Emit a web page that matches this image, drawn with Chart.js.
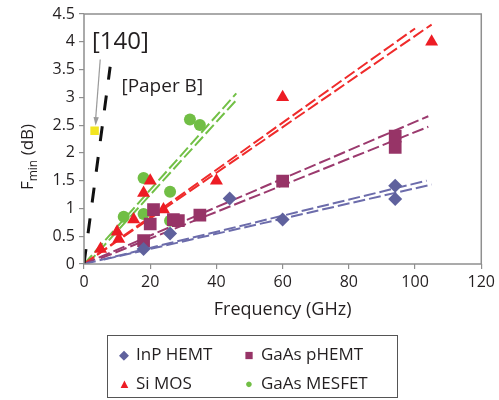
<!DOCTYPE html>
<html>
<head>
<meta charset="utf-8">
<script src="https://cdn.jsdelivr.net/npm/chart.js@4.4.0/dist/chart.umd.min.js"></script>
<style>
  html, body { margin: 0; padding: 0; background: #fff; }
  #wrap { position: relative; width: 499px; height: 400px; font-family: "Open Sans", sans-serif; color: #231f20; }
  #legend { position: absolute; left: 107px; top: 335px; width: 291px; height: 63px; border: 1.5px solid #555; box-sizing: border-box;
            display: grid; grid-template-columns: 125px 150px; grid-template-rows: 29px 29px; padding: 3px 0 0 10px; font-size: 17px; }
  #legend span { display: flex; align-items: center; white-space: nowrap; }
  #legend i { display: inline-block; width: 12px; margin-right: 6px; text-align: center; font-style: normal; }
</style>
</head>
<body>
<div id="wrap">
  <canvas id="fmin" width="499" height="400"></canvas>
  <div id="legend"></div>
</div>
<script>
// measured points (GHz, dB)
var inpHemt = [[18, 0.27], [26, 0.55], [44, 1.18], [60, 0.8], [94, 1.41], [94, 1.17]];
var gaasPhemt = [[18, 0.42], [20, 0.72], [21, 0.98], [27, 0.8], [28.5, 0.78], [35, 0.88], [60, 1.49], [94, 2.3], [94, 2.1]];
var siMos = [[5, 0.27], [10, 0.58], [10.5, 0.45], [15, 0.8], [18, 1.28], [20, 1.5], [24, 0.98], [40, 1.5], [60, 3.0], [105, 4.0]];
var gaasMesfet = [[12, 0.85], [18, 1.55], [18, 0.9], [26, 1.3], [26, 0.78], [32, 2.6], [35, 2.5]];
var ref140 = [[3.2, 2.4]];

// trend lines, two per technology
var inpFitA = [[0, 0], [103.5, 1.5]];
var inpFitB = [[6, 0.08], [105, 1.43]];
var phemtFitA = [[0, 0], [104, 2.66]];
var phemtFitB = [[5, 0.1], [104, 2.47]];
var mosFitA = [[0, 0], [100, 4.24]];
var mosFitB = [[0, 0], [105, 4.31]];
var mesFitA = [[0, 0], [46, 3.07]];
var mesFitB = [[1, 0], [46, 2.95]];
var paperB = [[0, 0], [7.9, 3.55]];

var xTicks = [0, 20, 40, 60, 80, 100, 120];
var yTicks = [0, 0.5, 1, 1.5, 2, 2.5, 3, 3.5, 4, 4.5];

function pts(a) { return a.map(function (p) { return {x: p[0], y: p[1]}; }); }

function marks(label, arr, color, style, r) {
  return {label: label, data: pts(arr), backgroundColor: color, borderColor: color, pointStyle: style,
          pointRadius: r, pointHoverRadius: r, borderWidth: 0, order: 1};
}
function fit(arr, color, dash, width) {
  return {data: pts(arr), showLine: true, borderColor: color, borderWidth: width || 2, borderDash: dash || [12, 4],
          pointRadius: 0, pointHoverRadius: 0, fill: false, order: 2};
}

var ink = '#231f20';
var extras = {
  id: 'extras',
  afterDraw: function (chart) {
    var ctx = chart.ctx, a = chart.chartArea, x = chart.scales.x, y = chart.scales.y;
    ctx.save();
    ctx.strokeStyle = '#8f8f8f';
    ctx.lineWidth = 1.5;
    ctx.strokeRect(a.left, a.top, a.right - a.left, a.bottom - a.top);

    // y title with subscript
    ctx.translate(27, 157);
    ctx.rotate(-Math.PI / 2);
    ctx.fillStyle = ink;
    ctx.textBaseline = 'alphabetic';
    ctx.font = '17px "Open Sans"';
    var w1 = ctx.measureText('F').width;
    ctx.font = '12px "Open Sans"';
    var w2 = ctx.measureText('min').width;
    ctx.font = '17px "Open Sans"';
    var w3 = ctx.measureText(' (dB)').width;
    var sx = -(w1 + w2 + w3) / 2;
    ctx.fillText('F', sx, 6);
    ctx.font = '12px "Open Sans"';
    ctx.fillText('min', sx + w1, 10);
    ctx.font = '17px "Open Sans"';
    ctx.fillText(' (dB)', sx + w1 + w2, 6);
    ctx.restore();

    // annotations
    ctx.save();
    ctx.fillStyle = ink;
    ctx.textBaseline = 'middle';
    ctx.font = '24px "Open Sans"';
    ctx.fillText('[140]', x.getPixelForValue(2.4), y.getPixelForValue(4.0));
    ctx.font = '19px "Open Sans"';
    ctx.fillText('[Paper B]', x.getPixelForValue(11.3), y.getPixelForValue(3.2));
    var x0 = x.getPixelForValue(4.9), y0 = y.getPixelForValue(3.68);
    var x1 = x.getPixelForValue(3.5), y1 = y.getPixelForValue(2.49);
    ctx.strokeStyle = '#9a9a9a';
    ctx.fillStyle = '#9a9a9a';
    ctx.lineWidth = 1.2;
    ctx.beginPath(); ctx.moveTo(x0, y0); ctx.lineTo(x1, y1 - 6); ctx.stroke();
    var ang = Math.atan2(y1 - y0, x1 - x0);
    ctx.beginPath();
    ctx.moveTo(x1, y1);
    ctx.lineTo(x1 - 9 * Math.cos(ang - 0.3), y1 - 9 * Math.sin(ang - 0.3));
    ctx.lineTo(x1 - 9 * Math.cos(ang + 0.3), y1 - 9 * Math.sin(ang + 0.3));
    ctx.closePath(); ctx.fill();
    ctx.restore();
  }
};

var cInp = '#5f619d', cPhemt = '#973467', cMos = '#ed1c24', cMes = '#71be45';

new Chart(document.getElementById('fmin'), {
  type: 'scatter',
  data: {
    datasets: [
      fit(paperB, '#111', [15, 16], 3),
      fit(inpFitA, '#6c6cab'), fit(inpFitB, '#6c6cab'),
      fit(phemtFitA, '#9b3a6e'), fit(phemtFitB, '#9b3a6e'),
      fit(mosFitA, '#ef2b2b'), fit(mosFitB, '#ef2b2b'),
      fit(mesFitA, '#72c046'), fit(mesFitB, '#72c046'),
      marks('InP HEMT', inpHemt, cInp, 'rectRot', 7),
      marks('GaAs pHEMT', gaasPhemt, cPhemt, 'rect', 9),
      marks('Si MOS', siMos, cMos, 'triangle', 7.5),
      marks('GaAs MESFET', gaasMesfet, cMes, 'circle', 6),
      marks('[140]', ref140, '#f2e521', 'rect', 6)
    ]
  },
  options: {
    responsive: false,
    animation: false,
    layout: {padding: {top: 14, right: 2, bottom: 75, left: 0}},
    plugins: {legend: {display: false}, tooltip: {enabled: false}},
    scales: {
      x: {
        min: 0, max: 120,
        afterBuildTicks: function (s) { s.ticks = xTicks.map(function (v) { return {value: v}; }); },
        afterFit: function (s) { s.height = 61; },
        grid: {display: true, drawOnChartArea: false, tickLength: 5, color: '#8f8f8f', lineWidth: 1.2},
        border: {display: false},
        ticks: {color: ink, font: {family: 'Open Sans', size: 16}, padding: 4, callback: function (v) { return String(v); }},
        title: {display: true, text: 'Frequency (GHz)', color: ink, font: {family: 'Open Sans', size: 18}, padding: {top: 1}}
      },
      y: {
        min: 0, max: 4.5,
        afterBuildTicks: function (s) { s.ticks = yTicks.map(function (v) { return {value: v}; }); },
        afterFit: function (s) { s.width = 84; },
        grid: {display: true, drawOnChartArea: false, tickLength: 5, color: '#8f8f8f', lineWidth: 1.2},
        border: {display: false},
        ticks: {color: ink, font: {family: 'Open Sans', size: 16}, padding: 4, callback: function (v) { return String(v); }}
      }
    }
  },
  plugins: [extras]
});

// legend as text boxes
var legendItems = [
  ['InP HEMT', cInp, '&#9670;', '13px'],
  ['GaAs pHEMT', cPhemt, '&#9632;', '15px'],
  ['Si MOS', cMos, '&#9650;', '13px'],
  ['GaAs MESFET', cMes, '&#9679;', '13px']
];
var lg = document.getElementById('legend');
for (var i = 0; i < legendItems.length; i++) {
  var it = legendItems[i];
  lg.innerHTML += '<span><i style="color:' + it[1] + ';font-size:' + it[3] + '">' + it[2] + '</i>' + it[0] + '</span>';
}
</script>
</body>
</html>
